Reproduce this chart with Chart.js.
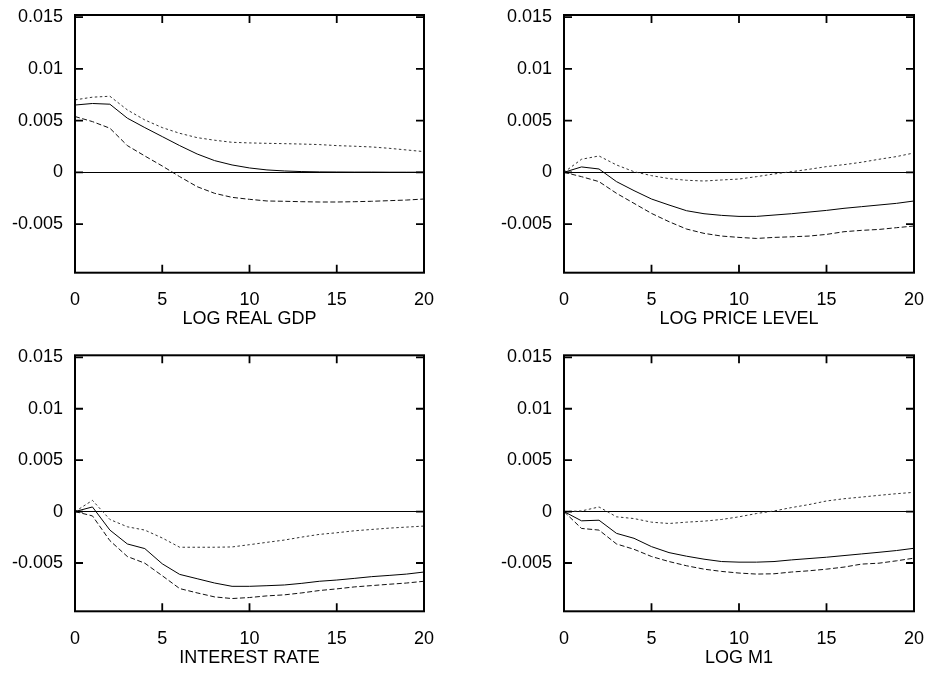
<!DOCTYPE html>
<html>
<head>
<meta charset="utf-8">
<script src="https://cdn.jsdelivr.net/npm/chart.js@4.4.1/dist/chart.umd.min.js"></script>
<style>
  body { margin: 0; background: #fff; }
  #wrap { position: relative; width: 932px; height: 673px; }
  #wrap canvas { position: absolute; }
</style>
</head>
<body>
<div id="wrap">
  <canvas id="gdp" width="466" height="336" style="left:0;top:0"></canvas>
  <canvas id="price" width="466" height="336" style="left:466px;top:0"></canvas>
  <canvas id="rate" width="466" height="337" style="left:0;top:336px"></canvas>
  <canvas id="m1" width="466" height="337" style="left:466px;top:336px"></canvas>
</div>
<script>
// horizon (quarters)
const steps = [0, 1, 2, 3, 4, 5, 6, 7, 8, 9, 10, 11, 12, 13, 14, 15, 16, 17, 18, 19, 20];
const xTicks = [0, 5, 10, 15, 20];
const yTicks = [-0.005, 0, 0.005, 0.01, 0.015];
const yTickLabels = ["-0.005", "0", "0.005", "0.01", "0.015"];

// LOG REAL GDP
const gdpMid = [0.0065, 0.00665, 0.00658, 0.00523, 0.00432, 0.00345, 0.00258, 0.00177, 0.00113, 0.00071, 0.00042,
  0.00023, 0.00013, 0.00007, 0.00004, 0.00003, 0.00002, 0.00002, 0.00001, 0.00001, 0.00001];
const gdpUpper = [0.0070, 0.00726, 0.00735, 0.00603, 0.00506, 0.00432, 0.00377, 0.00335, 0.0031, 0.0029, 0.00284,
  0.0028, 0.00277, 0.00273, 0.00268, 0.00258, 0.00252, 0.00245, 0.00232, 0.00216, 0.002];
const gdpLower = [0.00539, 0.0049, 0.00426, 0.00258, 0.00158, 0.00061, -0.00042, -0.00139, -0.00203, -0.00242, -0.00261,
  -0.00277, -0.0028, -0.00284, -0.00287, -0.00287, -0.00284, -0.0028, -0.00274, -0.00268, -0.00258];

// LOG PRICE LEVEL
const priceMid = [0, 0.00052, 0.00032, -0.0009, -0.00177, -0.00258, -0.00316, -0.00371, -0.004, -0.00416, -0.00426,
  -0.00426, -0.00413, -0.004, -0.00384, -0.00368, -0.00348, -0.00332, -0.00316, -0.003, -0.00277];
const priceUpper = [0, 0.00126, 0.00158, 0.00071, 0.00006, -0.00032, -0.00061, -0.00077, -0.00084, -0.00074, -0.00065,
  -0.00042, -0.00016, 0.00006, 0.00029, 0.00055, 0.00074, 0.00097, 0.00126, 0.00152, 0.00187];
const priceLower = [0, -0.00042, -0.0009, -0.00203, -0.003, -0.00397, -0.00477, -0.00548, -0.0059, -0.00616, -0.00629,
  -0.00639, -0.00629, -0.00623, -0.00616, -0.006, -0.00574, -0.00561, -0.00552, -0.00535, -0.00519];

// INTEREST RATE
const rateMid = [0, 0.00045, -0.0018, -0.00315, -0.0036, -0.00508, -0.00611, -0.00653, -0.00695, -0.00727, -0.00727,
  -0.00721, -0.00714, -0.00698, -0.00678, -0.00666, -0.0065, -0.00633, -0.00621, -0.00608, -0.00588];
const rateUpper = [0, 0.00109, -0.00077, -0.00148, -0.0018, -0.00257, -0.00347, -0.00347, -0.00347, -0.00344, -0.00322,
  -0.00299, -0.00277, -0.00248, -0.00222, -0.00206, -0.00187, -0.00174, -0.00161, -0.00151, -0.00141];
const rateLower = [0, -0.00042, -0.00283, -0.00437, -0.00502, -0.00624, -0.00749, -0.00791, -0.0083, -0.00846, -0.00836,
  -0.0082, -0.0081, -0.00791, -0.00768, -0.00752, -0.00733, -0.0072, -0.00707, -0.00695, -0.00678];

// LOG M1
const m1Mid = [0, -0.0009, -0.00084, -0.00212, -0.0026, -0.00341, -0.00399, -0.00434, -0.00463, -0.00486, -0.00492,
  -0.00492, -0.00486, -0.0047, -0.00457, -0.00444, -0.00428, -0.00412, -0.00396, -0.00379, -0.00357];
const m1Upper = [0, 0.00006, 0.00045, -0.00051, -0.00068, -0.00103, -0.00116, -0.00103, -0.00093, -0.00077, -0.00051,
  -0.00019, 0.00006, 0.00039, 0.00068, 0.00103, 0.00125, 0.00141, 0.00158, 0.00174, 0.00187];
const m1Lower = [0, -0.00164, -0.0018, -0.00315, -0.00367, -0.00437, -0.00486, -0.00527, -0.0056, -0.00582, -0.00598,
  -0.00608, -0.00605, -0.00588, -0.00576, -0.0056, -0.0054, -0.00511, -0.00502, -0.00479, -0.00453];

const FONT = "'Liberation Sans', Arial, Helvetica, sans-serif";

// gnuplot style frame with inward ticks on all four sides
const framePlugin = {
  id: "frame",
  afterDraw(chart) {
    const { ctx, chartArea: a, scales } = chart;
    const len = 8;
    ctx.save();
    ctx.strokeStyle = "#000";
    ctx.lineWidth = 1.8;
    ctx.beginPath();
    scales.x.ticks.forEach(t => {
      const px = scales.x.getPixelForValue(t.value);
      ctx.moveTo(px, a.bottom);
      ctx.lineTo(px, a.bottom - len);
      ctx.moveTo(px, a.top);
      ctx.lineTo(px, a.top + len);
    });
    scales.y.ticks.forEach(t => {
      const py = scales.y.getPixelForValue(t.value);
      ctx.moveTo(a.left, py);
      ctx.lineTo(a.left + len, py);
      ctx.moveTo(a.right, py);
      ctx.lineTo(a.right - len, py);
    });
    ctx.stroke();
    ctx.lineWidth = 2;
    ctx.strokeRect(a.left, a.top, a.right - a.left, a.bottom - a.top);
    ctx.restore();
  }
};

function series(values) {
  return steps.map((s, i) => ({ x: s, y: values[i] }));
}

function makePanel(id, title, mid, upper, lower, yWidth, padRight, padTop, xHeight, titlePad) {
  const ctx = document.getElementById(id).getContext("2d");
  return new Chart(ctx, {
    type: "line",
    data: {
      datasets: [
        { data: series(upper), borderColor: "#333", borderWidth: 1, borderDash: [2.5, 2.5] },
        { data: series(mid), borderColor: "#000", borderWidth: 1 },
        { data: series(lower), borderColor: "#111", borderWidth: 1, borderDash: [5, 2.5] },
      ],
    },
    options: {
      responsive: false,
      animation: false,
      events: [],
      elements: { point: { radius: 0 }, line: { tension: 0 } },
      layout: { padding: { left: 0, right: padRight, top: padTop, bottom: 0 } },
      plugins: { legend: { display: false }, tooltip: { enabled: false } },
      scales: {
        x: {
          type: "linear",
          min: 0,
          max: 20,
          afterBuildTicks: scale => { scale.ticks = xTicks.map(v => ({ value: v })); },
          afterFit: scale => {
            scale.height = xHeight;
            scale.paddingLeft = 0;
            scale.paddingRight = 0;
          },
          grid: { display: false },
          border: { display: false },
          ticks: { color: "#000", padding: 9, maxRotation: 0, font: { family: FONT, size: 18 } },
          title: {
            display: true,
            text: title,
            color: "#000",
            padding: { top: 0, bottom: titlePad },
            font: { family: FONT, size: 18 },
          },
        },
        y: {
          min: -0.0097,
          max: 0.0152,
          afterBuildTicks: scale => { scale.ticks = yTicks.map(v => ({ value: v })); },
          afterFit: scale => {
            scale.width = yWidth;
            scale.paddingTop = 0;
            scale.paddingBottom = 0;
          },
          grid: {
            drawTicks: false,
            lineWidth: 1,
            color: c => (c.tick && c.tick.value === 0 ? "#000" : "rgba(0,0,0,0)"),
          },
          border: { display: false },
          ticks: {
            color: "#000",
            padding: 12,
            font: { family: FONT, size: 18 },
            callback: v => yTickLabels[yTicks.indexOf(v)],
          },
        },
      },
    },
    plugins: [framePlugin],
  });
}

makePanel("gdp", "LOG REAL GDP", gdpMid, gdpUpper, gdpLower, 75, 42, 15, 63.3, 6.2);
makePanel("price", "LOG PRICE LEVEL", priceMid, priceUpper, priceLower, 98, 18, 15, 63.3, 6.2);
makePanel("rate", "INTEREST RATE", rateMid, rateUpper, rateLower, 75, 42, 19.3, 61.7, 4.5);
makePanel("m1", "LOG M1", m1Mid, m1Upper, m1Lower, 98, 18, 19.3, 61.7, 4.5);
</script>
</body>
</html>
